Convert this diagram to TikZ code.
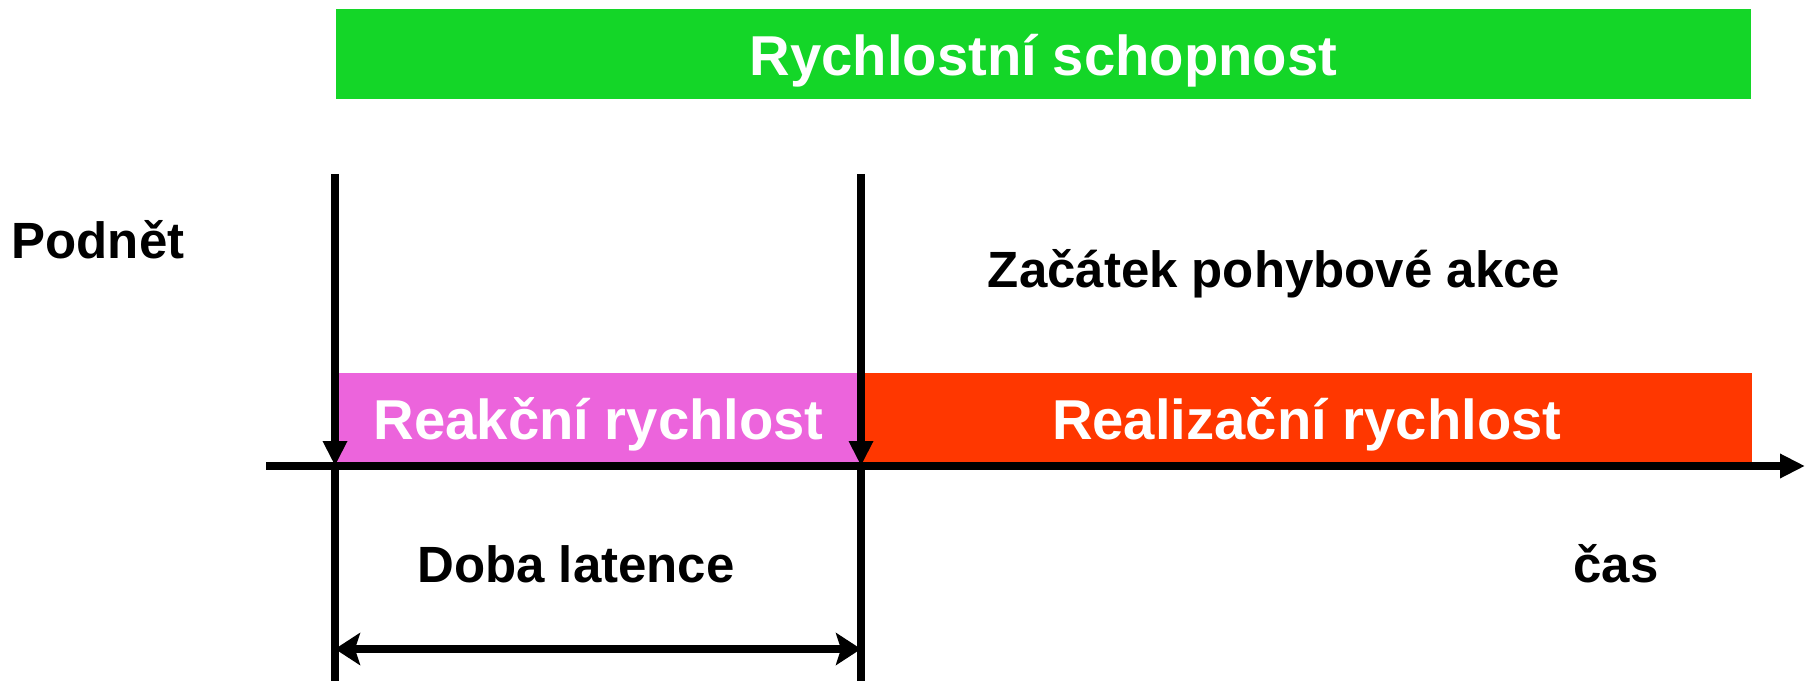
\documentclass[tikz,border=0pt]{standalone}
\usepackage{fontspec}
\setmainfont{Liberation Sans}
\usetikzlibrary{arrows.meta}
\definecolor{zelena}{RGB}{20,214,40}
\definecolor{ruzova}{RGB}{236,100,220}
\definecolor{cervena}{RGB}{255,55,0}
\tikzset{
    pruh/.style={minimum height=0.9cm, inner sep=0pt, text height=0.54cm, text depth=0.12cm, text=white, font=\fontsize{16}{19}\selectfont\bfseries},
    popis/.style={font=\fontsize{14.5}{17}\selectfont\bfseries},
    cara/.style={line width=2pt},
    hrot/.style={-{Triangle[length=0.25cm,width=0.23cm]}},
    sipky/.style={{Stealth[length=0.25cm,width=0.32cm,inset=0.05cm]}-{Stealth[length=0.25cm,width=0.32cm,inset=0.05cm]}},
}
\begin{document}
\begin{tikzpicture}
\useasboundingbox (0,0) rectangle (18.16,6.81);

\node[pruh, fill=zelena, minimum width=14.15cm] (schopnost) at (10.435,6.265) {Rychlostní schopnost};
\node[pruh, fill=ruzova, minimum width=5.26cm, anchor=south west] (reakce) at (3.35,2.17) {Reakční rychlost};
\node[pruh, fill=cervena, minimum width=8.9cm, anchor=south west] (realizace) at (8.61,2.17) {Realizační rychlost};

\coordinate (osaL) at (2.66,2.15);
\coordinate (osaP) at (18.05,2.15);
\draw[cara, hrot] (osaL)--(osaP);

\coordinate (startH) at (3.35,5.07);
\coordinate (startO) at (3.35,2.15);
\coordinate (startD) at (3.35,0);
\draw[cara, hrot] (startH)--(startO);
\draw[cara] (startO)--(startD);

\coordinate (akceH) at (8.61,5.07);
\coordinate (akceO) at (8.61,2.15);
\coordinate (akceD) at (8.61,0);
\draw[cara, hrot] (akceH)--(akceO);
\draw[cara] (akceO)--(akceD);

\coordinate (latL) at (3.35,0.32);
\coordinate (latP) at (8.61,0.32);
\draw[cara, sipky] (latL)--(latP);

\node[popis] (podnet) at (0.98,4.41) {Podnět};
\node[popis] (zacatek) at (12.74,4.07) {Začátek pohybové akce};
\node[popis] (latence) at (5.76,1.17) {Doba latence};
\node[popis] (cas) at (16.16,1.17) {čas};

\end{tikzpicture}
\end{document}
